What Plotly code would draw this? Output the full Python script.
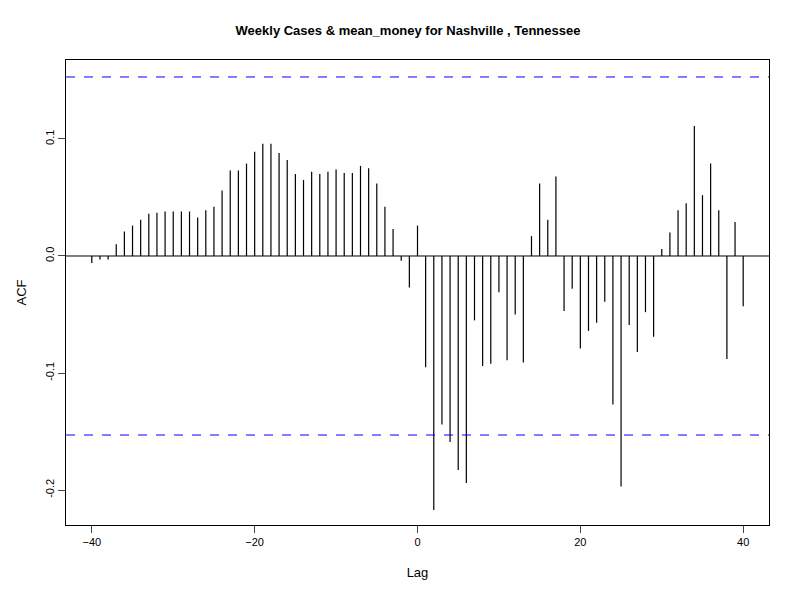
import plotly.graph_objects as go

lags = list(range(-40, 41))
acf = [-0.006, -0.003, -0.003, 0.010, 0.021, 0.026, 0.031, 0.036, 0.037, 0.038,
       0.038, 0.038, 0.038, 0.033, 0.039, 0.042, 0.056, 0.073, 0.073, 0.079,
       0.089, 0.096, 0.096, 0.088, 0.082, 0.070, 0.065, 0.072, 0.070, 0.072,
       0.074, 0.071, 0.071, 0.077, 0.075, 0.062, 0.042, 0.023, -0.004, -0.027,
       0.026,
       -0.095, -0.217, -0.144, -0.159, -0.183, -0.194, -0.055, -0.094, -0.092, -0.031,
       -0.089, -0.050, -0.091, 0.017, 0.062, 0.031, 0.068, -0.047, -0.028, -0.079,
       -0.064, -0.057, -0.039, -0.127, -0.197, -0.059, -0.082, -0.048, -0.069, 0.006,
       0.020, 0.039, 0.045, 0.111, 0.052, 0.079, 0.039, -0.088, 0.029, -0.043]
ci = 0.153

xs, ys = [], []
for l, v in zip(lags, acf):
    xs += [l, l, None]
    ys += [0, v, None]

fig = go.Figure()
fig.add_trace(go.Scatter(x=xs, y=ys, mode="lines", line=dict(color="black", width=1.2), hoverinfo="skip"))
fig.add_hline(y=0, line=dict(color="black", width=1))
fig.add_hline(y=ci, line=dict(color="#0000ff", width=1, dash="dash"), opacity=1)
fig.add_hline(y=-ci, line=dict(color="#0000ff", width=1, dash="dash"), opacity=1)

fig.update_layout(
    width=800, height=600, showlegend=False,
    plot_bgcolor="white", paper_bgcolor="white",
    margin=dict(l=52, r=39, t=52, b=83),
    font=dict(family="Liberation Sans, Arial", size=11, color="black"),
    title=dict(text="<b>Weekly Cases & mean_money for Nashville , Tennessee</b>",
               x=0.5, xanchor="center", y=0.97, font=dict(size=13)),
    xaxis=dict(range=[-43.17, 43.17], tickvals=[-40, -20, 0, 20, 40], showgrid=False,
               zeroline=False, showline=True, mirror=True, linecolor="black",
               ticks="outside", ticklen=7, title=dict(text="Lag", standoff=20)),
    yaxis=dict(range=[-0.2299, 0.1675], tickvals=[-0.2, -0.1, 0.0, 0.1],
               ticktext=["-0.2", "-0.1", "0.0", "0.1"], tickangle=-90,
               showgrid=False, zeroline=False, showline=True, mirror=True,
               linecolor="black", ticks="outside", ticklen=7,
               title=dict(text="ACF", standoff=14)),
)
fig.write_html("out.html")
